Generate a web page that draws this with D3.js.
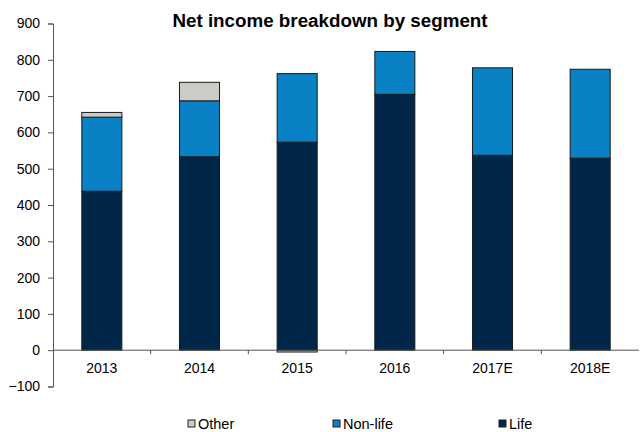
<!DOCTYPE html>
<html>
  <head>
    <meta charset="utf-8">
    <script src="https://d3js.org/d3.v7.min.js"></script>
    <style>
      body { margin: 0; background: #fff; }
      #chart { display: block; }
      .axis text { font: 14px "Liberation Sans", Arial, sans-serif; fill: #000; }
      .axis path, .axis line { stroke: #555; }
      .title { font: bold 18.8px "Liberation Sans", Arial, sans-serif; }
      .legend text { font: 14.5px "Liberation Sans", Arial, sans-serif; }
    </style>
  </head>
  <body>
    <svg id="chart"></svg>
    <script>
      var years = ['2013', '2014', '2015', '2016', '2017E', '2018E'];
      var life = [438, 533, 573, 705, 537, 529];
      var nonLife = [204, 154, 189, 118, 241, 245];
      var other = [13, 51, -5, 0, 0, 0];
      var yTicks = [-100, 0, 100, 200, 300, 400, 500, 600, 700, 800, 900];

      var series = [
        { key: 'life', name: 'Life', values: life, color: '#00264a' },
        { key: 'nonLife', name: 'Non-life', values: nonLife, color: '#0a80c5' },
        { key: 'other', name: 'Other', values: other, color: '#cbcbc8' }
      ];

      var W = 640, H = 432;
      var margin = { left: 53, right: 1, top: 24, bottom: 46 };

      var svg = d3.select('#chart').attr('width', W).attr('height', H);

      var x = d3.scaleBand()
        .domain(years)
        .range([margin.left, W - margin.right])
        .paddingInner(0.59)
        .paddingOuter(0.295);

      var y = d3.scaleLinear()
        .domain([-100, 900])
        .range([386.5, 23.5]);

      // stack with positives going up, negatives going down
      var rows = years.map((yr, i) => {
        var row = { year: yr };
        series.forEach(s => row[s.key] = s.values[i]);
        return row;
      });
      var stack = d3.stack()
        .keys(series.map(s => s.key))
        .offset(d3.stackOffsetDiverging);
      var layers = stack(rows);

      var g = svg.append('g');
      layers.forEach((layer, li) => {
        g.selectAll('.bar-' + li)
          .data(layer)
          .enter().append('rect')
            .attr('x', d => x(d.data.year))
            .attr('width', x.bandwidth())
            .attr('y', d => y(Math.max(d[0], d[1])))
            .attr('height', d => Math.abs(y(d[0]) - y(d[1])))
            .attr('fill', series[li].color)
            .attr('stroke', d => d[0] === d[1] ? 'none' : '#1a1a1a')
            .attr('stroke-width', 1);
      });

      // y axis
      svg.append('g')
        .attr('class', 'axis y')
        .attr('transform', `translate(${ margin.left }, 0)`)
        .call(d3.axisLeft(y).tickValues(yTicks).tickSize(5).tickPadding(8));

      // x axis at zero, ticks between categories
      var xg = svg.append('g')
        .attr('class', 'axis x')
        .attr('transform', `translate(0, ${ y(0) })`);
      xg.append('line')
        .attr('x1', margin.left).attr('x2', W - margin.right)
        .attr('stroke', '#555');
      var step = x.step();
      xg.selectAll('.sep')
        .data(years.slice(1))
        .enter().append('line')
          .attr('x1', d => x(d) - step * x.paddingInner() / 2)
          .attr('x2', d => x(d) - step * x.paddingInner() / 2)
          .attr('y1', 0).attr('y2', 4)
          .attr('stroke', '#555');
      xg.selectAll('text')
        .data(years)
        .enter().append('text')
          .attr('x', d => x(d) + x.bandwidth() / 2)
          .attr('y', 23)
          .attr('text-anchor', 'middle')
          .text(d => d);

      svg.append('text')
        .attr('class', 'title')
        .attr('x', 330)
        .attr('y', 27)
        .attr('text-anchor', 'middle')
        .text('Net income breakdown by segment');

      // legend
      var legendItems = [
        { s: series[2], x: 188 },
        { s: series[1], x: 333 },
        { s: series[0], x: 499 }
      ];
      var lg = svg.append('g').attr('class', 'legend');
      legendItems.forEach(it => {
        lg.append('rect')
          .attr('x', it.x).attr('y', 420)
          .attr('width', 7).attr('height', 7)
          .attr('fill', it.s.color)
          .attr('stroke', '#222').attr('stroke-width', 1);
        lg.append('text')
          .attr('x', it.x + 10).attr('y', 429)
          .text(it.s.name);
      });
    </script>
  </body>
</html>
